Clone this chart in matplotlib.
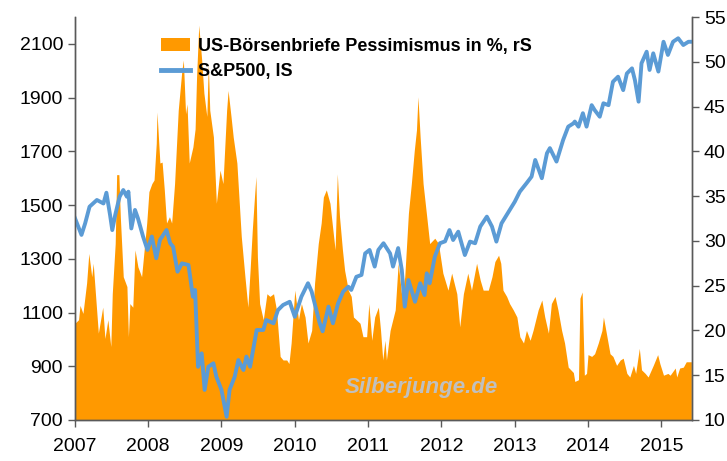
import numpy as np
import matplotlib
matplotlib.use('Agg')
import matplotlib.pyplot as plt
from matplotlib.patches import Patch
from matplotlib.lines import Line2D

plt.rcParams['font.family'] = ['Liberation Sans', 'DejaVu Sans']

# S&P500 (left scale)
spx_t = [2007.00, 2007.09, 2007.14, 2007.20, 2007.30, 2007.39, 2007.43, 2007.48, 2007.51, 2007.55,
         2007.61, 2007.66, 2007.71, 2007.73, 2007.77, 2007.82, 2007.86, 2007.93, 2007.99, 2008.05,
         2008.11, 2008.16, 2008.25, 2008.30, 2008.34, 2008.40, 2008.46, 2008.55, 2008.61, 2008.64,
         2008.68, 2008.73, 2008.77, 2008.82, 2008.89, 2008.93, 2009.00, 2009.07, 2009.11, 2009.18,
         2009.23, 2009.30, 2009.34, 2009.39, 2009.48, 2009.57, 2009.61, 2009.71, 2009.77, 2009.84,
         2009.93, 2010.00, 2010.09, 2010.18, 2010.23, 2010.30, 2010.34, 2010.38, 2010.46, 2010.52,
         2010.59, 2010.66, 2010.73, 2010.77, 2010.84, 2010.91, 2010.96, 2011.02, 2011.09, 2011.14,
         2011.21, 2011.30, 2011.34, 2011.41, 2011.46, 2011.50, 2011.55, 2011.64, 2011.71, 2011.77,
         2011.80, 2011.84, 2011.91, 2011.98, 2012.05, 2012.11, 2012.16, 2012.23, 2012.32, 2012.39,
         2012.46, 2012.53, 2012.62, 2012.69, 2012.75, 2012.82, 2012.89, 2013.00, 2013.07, 2013.16,
         2013.23, 2013.28, 2013.37, 2013.44, 2013.48, 2013.57, 2013.66, 2013.73, 2013.80, 2013.82,
         2013.87, 2013.93, 2013.98, 2014.05, 2014.09, 2014.16, 2014.21, 2014.28, 2014.34, 2014.41,
         2014.48, 2014.53, 2014.60, 2014.64, 2014.69, 2014.73, 2014.80, 2014.84, 2014.89, 2014.96,
         2015.03, 2015.09, 2015.16, 2015.23, 2015.30, 2015.37, 2015.41]
spx_v = [1452, 1389, 1432, 1494, 1519, 1506, 1546, 1463, 1407, 1463,
         1531, 1556, 1531, 1550, 1413, 1482, 1451, 1383, 1333, 1383,
         1302, 1370, 1407, 1358, 1345, 1252, 1283, 1277, 1159, 1184,
         898, 948, 812, 898, 911, 861, 812, 712, 812, 861,
         923, 886, 936, 898, 1035, 1035, 1072, 1060, 1109, 1128,
         1140, 1084, 1159, 1209, 1178, 1103, 1060, 1030, 1122, 1060,
         1134, 1178, 1196, 1184, 1233, 1240, 1320, 1333, 1271, 1333,
         1358, 1320, 1271, 1340, 1258, 1122, 1221, 1140, 1209, 1165,
         1246, 1209, 1308, 1358, 1365, 1407, 1370, 1401, 1314, 1364,
         1358, 1420, 1457, 1420, 1364, 1432, 1463, 1512, 1550, 1581,
         1606, 1668, 1600, 1693, 1712, 1662, 1742, 1792, 1804, 1811,
         1792, 1842, 1792, 1872, 1854, 1829, 1879, 1872, 1959, 1978,
         1928, 1990, 2009, 1965, 1885, 2028, 2071, 2003, 2065, 1997,
         2108, 2059, 2108, 2121, 2096, 2108, 2108]

# US-Börsenbriefe Pessimismus in % (right scale)
pess_t = [2007.00, 2007.05, 2007.07, 2007.11, 2007.16, 2007.19, 2007.23, 2007.25, 2007.32, 2007.38,
          2007.41, 2007.45, 2007.49, 2007.51, 2007.55, 2007.57, 2007.60, 2007.62, 2007.66, 2007.71,
          2007.73, 2007.75, 2007.79, 2007.82, 2007.86, 2007.91, 2007.98, 2008.01, 2008.05, 2008.08,
          2008.11, 2008.12, 2008.16, 2008.19, 2008.22, 2008.25, 2008.29, 2008.32, 2008.36, 2008.41,
          2008.46, 2008.48, 2008.51, 2008.53, 2008.56, 2008.61, 2008.64, 2008.66, 2008.69, 2008.73,
          2008.76, 2008.80, 2008.82, 2008.84, 2008.89, 2008.93, 2008.98, 2009.02, 2009.07, 2009.09,
          2009.13, 2009.16, 2009.21, 2009.27, 2009.32, 2009.36, 2009.39, 2009.42, 2009.45, 2009.47,
          2009.49, 2009.52, 2009.57, 2009.62, 2009.66, 2009.71, 2009.75, 2009.80, 2009.84, 2009.89,
          2009.92, 2009.95, 2010.00, 2010.05, 2010.09, 2010.14, 2010.18, 2010.23, 2010.27, 2010.32,
          2010.36, 2010.39, 2010.43, 2010.48, 2010.52, 2010.55, 2010.58, 2010.61, 2010.65, 2010.68,
          2010.73, 2010.77, 2010.80, 2010.84, 2010.89, 2010.93, 2010.98, 2011.01, 2011.05, 2011.09,
          2011.14, 2011.17, 2011.20, 2011.23, 2011.25, 2011.30, 2011.37, 2011.41, 2011.46, 2011.50,
          2011.55, 2011.59, 2011.63, 2011.66, 2011.68, 2011.71, 2011.75, 2011.80, 2011.84, 2011.91,
          2011.96, 2012.02, 2012.09, 2012.14, 2012.21, 2012.25, 2012.30, 2012.36, 2012.41, 2012.48,
          2012.53, 2012.57, 2012.64, 2012.69, 2012.73, 2012.78, 2012.81, 2012.84, 2012.89, 2012.93,
          2012.98, 2013.03, 2013.07, 2013.12, 2013.16, 2013.21, 2013.25, 2013.32, 2013.37, 2013.41,
          2013.46, 2013.50, 2013.55, 2013.59, 2013.64, 2013.68, 2013.73, 2013.80, 2013.82, 2013.87,
          2013.89, 2013.92, 2013.95, 2013.98, 2014.00, 2014.05, 2014.09, 2014.14, 2014.19, 2014.21,
          2014.25, 2014.30, 2014.34, 2014.39, 2014.44, 2014.48, 2014.53, 2014.57, 2014.62, 2014.65,
          2014.70, 2014.73, 2014.78, 2014.82, 2014.89, 2014.95, 2014.98, 2015.03, 2015.09, 2015.12,
          2015.19, 2015.21, 2015.25, 2015.30, 2015.34, 2015.41]
pess_v = [20.8, 21.2, 22.8, 21.9, 25.3, 28.6, 26.0, 27.5, 19.7, 22.6,
          19.1, 21.2, 18.2, 24.1, 29.7, 37.4, 37.4, 32.7, 26.0, 24.9,
          19.3, 23.0, 22.6, 29.0, 27.1, 26.0, 32.0, 35.5, 36.4, 36.8,
          40.9, 44.4, 38.7, 38.8, 35.7, 32.0, 32.7, 32.0, 36.4, 44.6,
          49.1, 50.2, 44.2, 45.3, 38.7, 40.5, 42.5, 48.3, 54.1, 50.2,
          46.5, 43.9, 49.8, 44.6, 41.6, 34.2, 37.9, 36.4, 44.6, 46.8,
          43.9, 41.6, 38.7, 30.5, 26.0, 22.6, 26.7, 31.2, 34.9, 37.2,
          28.2, 23.0, 21.2, 24.1, 23.8, 24.1, 22.3, 17.1, 16.7, 16.7,
          16.3, 18.6, 24.5, 21.2, 23.0, 21.5, 18.6, 20.0, 25.3, 29.7,
          32.0, 34.9, 35.7, 34.2, 31.2, 29.0, 37.5, 32.7, 29.0, 26.7,
          24.5, 23.8, 21.5, 21.2, 20.8, 19.3, 19.3, 23.0, 18.9, 21.5,
          22.6, 20.0, 16.7, 18.9, 16.7, 20.0, 22.3, 27.5, 23.8, 26.0,
          33.1, 36.4, 40.1, 42.4, 46.1, 41.6, 36.4, 32.7, 29.7, 30.3,
          29.7, 26.4, 24.5, 26.4, 24.1, 20.4, 24.1, 26.4, 24.5, 27.5,
          25.6, 24.5, 24.5, 26.0, 27.7, 28.4, 27.5, 24.5, 23.8, 23.0,
          22.3, 21.5, 19.3, 18.6, 20.0, 18.9, 20.0, 22.3, 23.4, 21.5,
          19.7, 23.0, 23.8, 22.3, 20.0, 18.6, 15.9, 15.3, 14.3, 14.5,
          23.6, 24.3, 15.0, 15.2, 17.3, 17.1, 17.4, 18.6, 20.0, 21.5,
          19.7, 17.4, 17.1, 16.1, 16.7, 16.9, 15.2, 14.8, 16.1, 15.2,
          18.0, 15.6, 15.2, 14.8, 16.1, 17.3, 16.3, 15.0, 15.2, 15.0,
          15.8, 14.8, 15.8, 15.9, 16.5, 16.5]

year_ticks = [2007, 2008, 2009, 2010, 2011, 2012, 2013, 2014, 2015]

orange = '#FF9900'
blue = '#5B9BD5'
spine_col = '#595959'

fig = plt.figure(figsize=(7.27, 4.61), dpi=100)
ax1 = fig.add_axes([0.103, 0.089, 0.849, 0.874])
ax2 = ax1.twinx()

# area on the right scale, line on the left scale drawn on top
ax2.fill_between(pess_t, 10, pess_v, color=orange, linewidth=0)
ax1.plot(spx_t, spx_v, color=blue, linewidth=2.8, solid_joinstyle='round')
ax1.set_zorder(ax2.get_zorder() + 1)
ax1.patch.set_visible(False)

ax1.set_xlim(2007, 2015.42)
ax1.set_ylim(700, 2200)
ax2.set_ylim(10, 55)
ax1.set_yticks(range(700, 2101, 200))
ax2.set_yticks(range(10, 56, 5))
ax1.set_xticks(year_ticks)
ax1.set_xticklabels([str(y) for y in year_ticks])

for ax in (ax1, ax2):
    ax.spines['top'].set_visible(False)
    for s in ('left', 'right', 'bottom'):
        ax.spines[s].set_color(spine_col)
        ax.spines[s].set_linewidth(1.0)
    ax.tick_params(axis='both', direction='out', length=5, width=1.0,
                   colors=spine_col, labelcolor='black', labelsize=14)
ax1.tick_params(axis='x', pad=8)

fig.text(0.58, 0.16, 'Silberjunge.de', color='#C0C0C0', fontsize=16,
         fontweight='bold', fontstyle='italic', ha='center', va='center')

handles = [Patch(facecolor=orange, edgecolor='none'),
           Line2D([0], [0], color=blue, linewidth=3.5)]
labels = ['US-Börsenbriefe Pessimismus in %, rS', 'S&P500, lS']
leg = ax1.legend(handles, labels, loc='upper left', bbox_to_anchor=(0.222, 0.918),
                 bbox_transform=fig.transFigure, frameon=False,
                 prop={'size': 13, 'weight': 'bold'}, handlelength=1.6,
                 handleheight=0.7, handletextpad=0.4, labelspacing=0.45,
                 borderaxespad=0, borderpad=0)

fig.savefig('out.png', dpi=100)
